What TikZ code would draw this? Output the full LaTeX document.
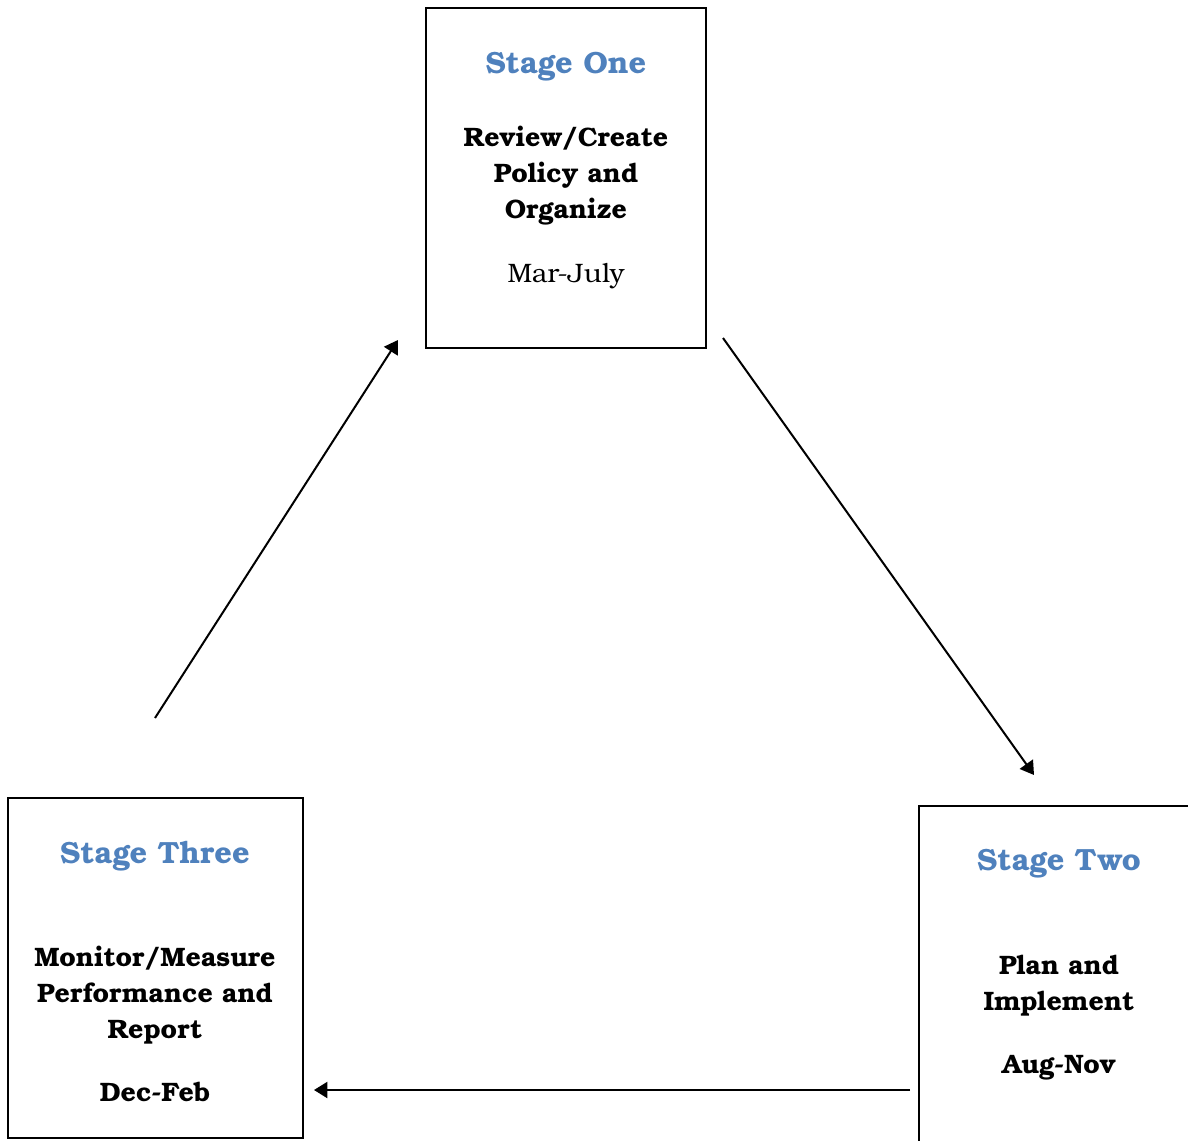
\documentclass[tikz,border=0pt]{standalone}
\usepackage{fontspec}
\setmainfont{texgyrebonum}[Extension=.otf, UprightFont=*-regular, BoldFont=*-bold]
\usepackage{tikz}
\usetikzlibrary{arrows.meta}
\usepackage{xcolor}
\definecolor{stageblue}{RGB}{79, 129, 189}

\begin{document}
\begin{tikzpicture}[x=0.75pt, y=-0.75pt, >={Triangle[length=10pt, width=12pt]},
    stagebox/.style={draw, line width=1.3pt, inner sep=0pt},
    stagetitle/.style={text=stageblue, font=\fontsize{23}{28}\selectfont\bfseries},
    stagebody/.style={align=center, font=\fontsize{20}{27}\selectfont\bfseries},
    flow/.style={->, line width=1.5pt}]
  \useasboundingbox (0,0) rectangle (1188,1141);
  \clip (0,0) rectangle (1188,1141);
  % boxes
  \node[stagebox, minimum width=210pt, minimum height=255pt] (one) at (566,178) {};
  \node[stagebox, minimum width=221.25pt, minimum height=255pt] (three) at (155.5,968) {};
  \node[stagebox, minimum width=220pt, minimum height=255pt] (two) at (1066,976) {};
  % stage one
  \node[stagetitle] (onetitle) at (566,67) {Stage One};
  \node[stagebody] (onetext) at (566,176) {Review/Create\\Policy and\\Organize};
  \node[font=\fontsize{20}{27}\selectfont] (onedate) at (566,276) {Mar-July};
  % stage two
  \node[stagetitle] (twotitle) at (1059,864) {Stage Two};
  \node[stagebody] (twotext) at (1059,986) {Plan and\\Implement};
  \node[stagebody] (twodate) at (1059,1068) {Aug-Nov};
  % stage three
  \node[stagetitle] (threetitle) at (155,856) {Stage Three};
  \node[stagebody] (threetext) at (155,995) {Monitor/Measure\\Performance and\\Report};
  \node[stagebody] (threedate) at (155,1092) {Dec-Feb};
  % arrow ends
  \coordinate (a1s) at (155,718);
  \coordinate (a1e) at (398,340);
  \coordinate (a2s) at (723,338);
  \coordinate (a2e) at (1034,775);
  \coordinate (a3s) at (910,1090);
  \coordinate (a3e) at (314,1090);
  \draw[flow] (a1s) -- (a1e);
  \draw[flow] (a2s) -- (a2e);
  \draw[flow] (a3s) -- (a3e);
\end{tikzpicture}
\end{document}
